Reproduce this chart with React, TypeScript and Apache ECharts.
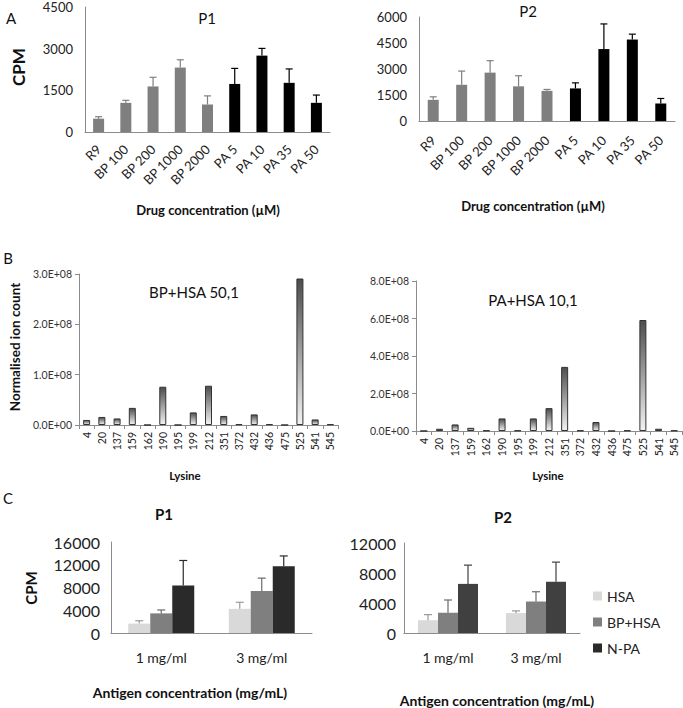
import React, { useEffect, useRef } from 'react';
import * as echarts from 'echarts';

const FONT = 'Lato, "Liberation Sans", sans-serif';

// Panel A
const drugCats = ['R9', 'BP 100', 'BP 200', 'BP 1000', 'BP 2000', 'PA 5', 'PA 10', 'PA 35', 'PA 50'];
const p1Cpm = [480, 1050, 1640, 2320, 990, 1730, 2750, 1770, 1050];
const p1Sd = [70, 90, 330, 280, 310, 560, 260, 500, 280];
const p2Cpm = [1220, 2090, 2790, 2000, 1740, 1880, 4150, 4700, 1010];
const p2Sd = [175, 790, 690, 610, 80, 320, 1450, 310, 290];

// Panel B
const lysine = ['4', '20', '137', '159', '162', '190', '195', '199', '212', '351', '372', '432', '436', '475', '525', '541', '545'];
const bpHsa = [1.0e7, 1.6e7, 1.3e7, 3.4e7, 0, 7.6e7, 0, 2.5e7, 7.8e7, 1.8e7, 1.5e6, 2.1e7, 1.5e6, 0, 2.91e8, 1.1e7, 1.5e6];
const paHsa = [0, 1.2e7, 3.5e7, 1.7e7, 3e6, 6.7e7, 3e6, 6.7e7, 1.22e8, 3.42e8, 3e6, 4.8e7, 0, 3e6, 5.92e8, 1.2e7, 3e6];

// Panel C
const antigenCats = ['1 mg/ml', '3 mg/ml'];
const seriesNames = ['HSA', 'BP+HSA', 'N-PA'];
const c1Hsa = [1650, 4250];
const c1HsaSd = [500, 1150];
const c1Bp = [3450, 7400];
const c1BpSd = [600, 2250];
const c1Npa = [8350, 11750];
const c1NpaSd = [4400, 1800];
const c2Hsa = [1700, 2650];
const c2HsaSd = [750, 300];
const c2Bp = [2700, 4200];
const c2BpSd = [1700, 1300];
const c2Npa = [6550, 6850];
const c2NpaSd = [2500, 2600];

const GRAY = '#7f7f7f';
const AXIS = '#8c8c8c';

function errRender(offset: number, cap: number, colorFn: (i: number) => string) {
  return (params: any, api: any) => {
    const x = api.value(0);
    const p0 = api.coord([x, api.value(1)]);
    const p1 = api.coord([x, api.value(2)]);
    const stroke = colorFn(params.dataIndex);
    const cx = p0[0] + offset;
    return {
      type: 'group',
      children: [
        { type: 'line', shape: { x1: cx, y1: p0[1], x2: cx, y2: p1[1] }, style: { stroke, lineWidth: 1.2 } },
        { type: 'line', shape: { x1: cx - cap, y1: p1[1], x2: cx + cap, y2: p1[1] }, style: { stroke, lineWidth: 1.2 } },
      ],
    };
  };
}

const drugColor = (i: number) => (drugCats[i].startsWith('PA') ? '#000000' : GRAY);

function txt(x: number, y: number, text: string, size: number, bold = false, rotation = 0, fill = '#111') {
  return {
    type: 'text',
    x,
    y,
    rotation,
    style: {
      text,
      fill,
      font: `${bold ? 'bold ' : ''}${size}px ${FONT}`,
      textAlign: 'center',
      textVerticalAlign: 'middle',
    },
  };
}

const sciFmt = (v: number) => (v === 0 ? '0.0E+00' : (v / 1e8).toFixed(1) + 'E+08');
const plainFmt = (v: number) => String(v);

function valueAxis(gridIndex: number, max: number, interval: number, fontSize: number, margin: number, opts: any = {}) {
  return {
    gridIndex,
    type: 'value',
    min: 0,
    max,
    interval,
    axisLine: { show: true, lineStyle: { color: AXIS, width: 1 } },
    axisTick: { show: false },
    splitLine: { show: false },
    axisLabel: { fontSize, color: '#222', margin, fontFamily: FONT, formatter: plainFmt },
    ...opts,
  };
}

function catAxis(gridIndex: number, data: string[], labelOpts: any, tickOpts: any = { show: false }) {
  return {
    gridIndex,
    type: 'category',
    data,
    axisLine: { show: true, lineStyle: { color: AXIS, width: 1 } },
    axisTick: tickOpts,
    axisLabel: { interval: 0, color: '#222', fontFamily: FONT, ...labelOpts },
  };
}

const bGradient = new echarts.graphic.LinearGradient(0, 0, 0, 1, [
  { offset: 0, color: '#4d4d4d' },
  { offset: 1, color: '#f2f2f2' },
]);

function cSeries(xi: number, vals: number[][], sds: number[][], colors: string[], errColors: string[], bw: number) {
  const out: any[] = [];
  vals.forEach((v, k) => {
    out.push({
      name: seriesNames[k],
      type: 'bar',
      xAxisIndex: xi,
      yAxisIndex: xi,
      data: v,
      barWidth: bw,
      barGap: '0%',
      itemStyle: { color: colors[k] },
    });
  });
  vals.forEach((v, k) => {
    out.push({
      name: 'err' + xi + k,
      type: 'custom',
      xAxisIndex: xi,
      yAxisIndex: xi,
      z: 5,
      data: v.map((y, i) => [i, y, y + sds[k][i]]),
      renderItem: errRender((k - 1) * bw, 4, () => errColors[k]),
    });
  });
  return out;
}

const option: any = {
  animation: false,
  backgroundColor: '#ffffff',
  textStyle: { fontFamily: FONT },
  grid: [
    { left: 85, top: 7, width: 245, height: 125, outerBoundsMode: 'none' },
    { left: 419, top: 17, width: 256, height: 104, outerBoundsMode: 'none' },
    { left: 79, top: 274, width: 259, height: 151, outerBoundsMode: 'none' },
    { left: 416, top: 281, width: 266, height: 150, outerBoundsMode: 'none' },
    { left: 111, top: 542, width: 201, height: 91, outerBoundsMode: 'none' },
    { left: 404, top: 543, width: 176, height: 90, outerBoundsMode: 'none' },
  ],
  xAxis: [
    catAxis(0, drugCats, { rotate: 45, fontSize: 13, margin: 15 }),
    catAxis(1, drugCats, { rotate: 45, fontSize: 13, margin: 17 }),
    catAxis(2, lysine, { rotate: 90, fontSize: 10.5, margin: 7 }, { show: true, length: 4, lineStyle: { color: AXIS } }),
    catAxis(3, lysine, { rotate: 90, fontSize: 10.5, margin: 7 }, { show: true, length: 4, lineStyle: { color: AXIS } }),
    catAxis(4, antigenCats, { fontSize: 14, margin: 17 }),
    catAxis(5, antigenCats, { fontSize: 14, margin: 17 }),
  ],
  yAxis: [
    valueAxis(0, 4500, 1500, 13, 12),
    valueAxis(1, 6000, 1500, 13, 12),
    valueAxis(2, 3e8, 1e8, 10.5, 7, {
      axisTick: { show: true, length: 4, lineStyle: { color: AXIS } },
      axisLabel: { fontSize: 10.5, color: '#333', margin: 7, fontFamily: FONT, formatter: sciFmt },
    }),
    valueAxis(3, 8e8, 2e8, 10.5, 7, {
      axisTick: { show: true, length: 4, lineStyle: { color: AXIS } },
      axisLabel: { fontSize: 10.5, color: '#333', margin: 7, fontFamily: FONT, formatter: sciFmt },
    }),
    valueAxis(4, 16000, 4000, 16, 11),
    valueAxis(5, 12000, 4000, 16, 8),
  ],
  legend: {
    data: seriesNames,
    orient: 'vertical',
    left: 588,
    top: 584,
    icon: 'rect',
    itemWidth: 9,
    itemHeight: 9,
    itemGap: 12,
    textStyle: { fontSize: 14, color: '#222', fontFamily: FONT },
    selectedMode: false,
  },
  series: [
    {
      type: 'bar',
      xAxisIndex: 0,
      yAxisIndex: 0,
      data: p1Cpm,
      barWidth: 11,
      itemStyle: { color: (p: any) => drugColor(p.dataIndex) },
    },
    {
      type: 'custom',
      xAxisIndex: 0,
      yAxisIndex: 0,
      z: 5,
      data: p1Cpm.map((v, i) => [i, v, v + p1Sd[i]]),
      renderItem: errRender(0, 3.5, drugColor),
    },
    {
      type: 'bar',
      xAxisIndex: 1,
      yAxisIndex: 1,
      data: p2Cpm,
      barWidth: 11,
      itemStyle: { color: (p: any) => drugColor(p.dataIndex) },
    },
    {
      type: 'custom',
      xAxisIndex: 1,
      yAxisIndex: 1,
      z: 5,
      data: p2Cpm.map((v, i) => [i, v, v + p2Sd[i]]),
      renderItem: errRender(0, 3.5, drugColor),
    },
    {
      type: 'bar',
      xAxisIndex: 2,
      yAxisIndex: 2,
      data: bpHsa,
      barWidth: 7,
      itemStyle: { color: bGradient, borderColor: '#333', borderWidth: 1 },
    },
    {
      type: 'bar',
      xAxisIndex: 3,
      yAxisIndex: 3,
      data: paHsa,
      barWidth: 7,
      itemStyle: { color: bGradient, borderColor: '#333', borderWidth: 1 },
    },
    ...cSeries(4, [c1Hsa, c1Bp, c1Npa], [c1HsaSd, c1BpSd, c1NpaSd], ['#d9d9d9', GRAY, '#2a2a2a'], ['#9a9a9a', '#6a6a6a', '#2a2a2a'], 22),
    ...cSeries(5, [c2Hsa, c2Bp, c2Npa], [c2HsaSd, c2BpSd, c2NpaSd], ['#d9d9d9', GRAY, '#404040'], ['#9a9a9a', '#6a6a6a', '#404040'], 20),
  ],
  graphic: [
    txt(11, 18, 'A', 15),
    txt(207, 18, 'P1', 15),
    txt(528, 11, 'P2', 15),
    txt(18, 67, 'CPM', 17, true, Math.PI / 2),
    txt(208, 210, 'Drug concentration (µM)', 13, true),
    txt(533, 206, 'Drug concentration (µM)', 13, true),
    txt(8, 258, 'B', 15),
    txt(194, 292, 'BP+HSA 50,1', 15),
    txt(533, 300, 'PA+HSA 10,1', 15),
    txt(15, 347, 'Normalised ion count', 13.5, true, Math.PI / 2),
    txt(185, 475, 'Lysine', 11.5, true),
    txt(548, 475, 'Lysine', 11.5, true),
    txt(8, 498, 'C', 15),
    txt(164, 514, 'P1', 15, true),
    txt(503, 517, 'P2', 15, true),
    txt(31, 588, 'CPM', 15, true, Math.PI / 2),
    txt(190, 692, 'Antigen concentration (mg/mL)', 14, true),
    txt(497, 700, 'Antigen concentration (mg/mL)', 14, true),
  ],
};

export default function App() {
  const ref = useRef<HTMLDivElement>(null);
  useEffect(() => {
    if (!ref.current) return;
    const chart = echarts.init(ref.current, null, { renderer: 'svg' });
    chart.setOption(option);
    return () => chart.dispose();
  }, []);
  return (
    <div
      ref={ref}
      style={{ position: 'absolute', left: 0, top: 0, width: 683, height: 708, background: '#fff' }}
    />
  );
}
